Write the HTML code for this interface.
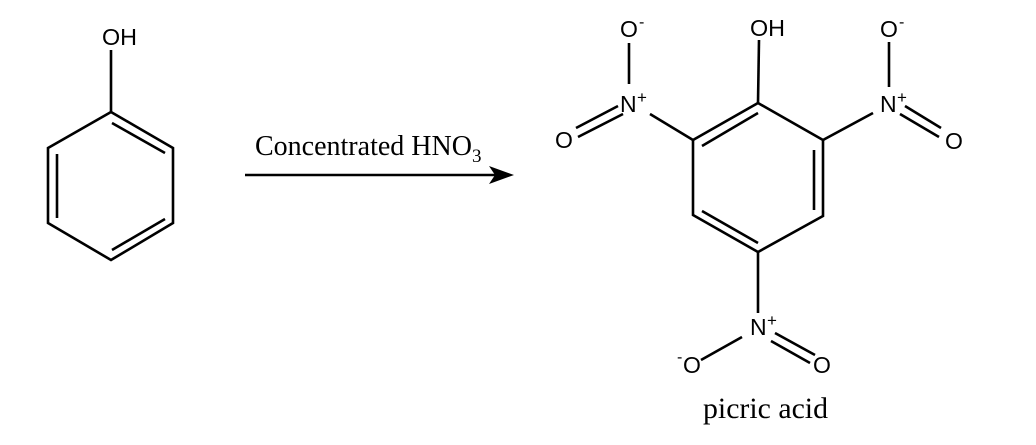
<!DOCTYPE html>
<html><head><style>html,body{margin:0;padding:0;background:#fff}svg{display:block}</style></head>
<body>
<svg width="1036" height="445" viewBox="0 0 1036 445" xmlns="http://www.w3.org/2000/svg">
<g stroke="#000" stroke-width="2.6" fill="none" stroke-linecap="butt">
<polygon points="111,112 173,148 173,223 111,260 48,223 48,148"/>
<line x1="112" y1="123" x2="165" y2="153"/>
<line x1="57" y1="154" x2="57" y2="218"/>
<line x1="112" y1="250" x2="165" y2="219"/>
<line x1="111" y1="50" x2="111" y2="112"/>
<line x1="245" y1="175" x2="500" y2="175"/>
<polygon points="758,103 823,140 823,216 758,252 693,215 693,140"/>
<line x1="702" y1="146" x2="758" y2="113"/>
<line x1="814" y1="150" x2="814" y2="210"/>
<line x1="702" y1="211" x2="758" y2="243"/>
<line x1="759" y1="40" x2="758" y2="103"/>
<line x1="693" y1="140" x2="650" y2="114"/>
<line x1="629" y1="84" x2="629" y2="43"/>
<line x1="618" y1="106" x2="576" y2="128"/>
<line x1="623" y1="114" x2="578" y2="137"/>
<line x1="823" y1="140" x2="873" y2="113"/>
<line x1="889" y1="87" x2="889" y2="42"/>
<line x1="905" y1="106" x2="941" y2="128"/>
<line x1="900" y1="114" x2="939" y2="137"/>
<line x1="758" y1="252" x2="758" y2="313"/>
<line x1="742" y1="337" x2="701" y2="360"/>
<line x1="775" y1="333" x2="815" y2="355"/>
<line x1="771" y1="341" x2="810" y2="363"/>
</g>
<polygon points="514,175 489,166 495,175 489,184" fill="#000"/>
<g font-family="Liberation Sans, sans-serif" font-size="23" fill="#000">
<text x="102" y="45" textLength="35" lengthAdjust="spacingAndGlyphs">OH</text>
<text x="750" y="36" textLength="35" lengthAdjust="spacingAndGlyphs">OH</text>
<text x="620" y="37">O</text><text x="639" y="27" font-size="16">-</text>
<text x="620" y="112">N</text><text x="637" y="103" font-size="17">+</text>
<text x="555" y="148">O</text>
<text x="880" y="37">O</text><text x="899" y="27" font-size="16">-</text>
<text x="880" y="112">N</text><text x="897" y="103" font-size="17">+</text>
<text x="945" y="149">O</text>
<text x="750" y="335">N</text><text x="767" y="326" font-size="17">+</text>
<text x="683" y="373">O</text><text x="677" y="362" font-size="16">-</text>
<text x="813" y="373">O</text>
</g>
<g font-family="Liberation Serif, serif" fill="#000">
<text x="255" y="155" font-size="28">Concentrated HNO<tspan font-size="19" dy="7">3</tspan></text>
<text x="703" y="418" font-size="30" textLength="125" lengthAdjust="spacingAndGlyphs">picric acid</text>
</g>
</svg>
</body></html>
